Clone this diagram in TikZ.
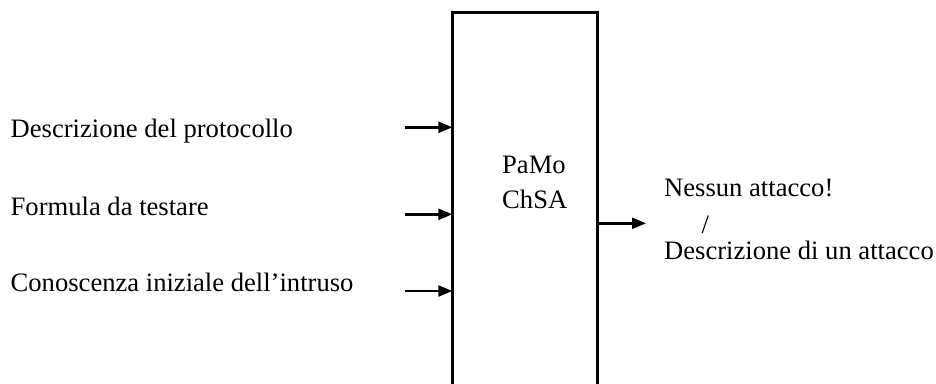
\documentclass[tikz,border=0pt]{standalone}
\usepackage{fontspec}
\setmainfont{Liberation Serif}
\usetikzlibrary{arrows.meta}
\begin{document}
\begin{tikzpicture}[x=1pt,y=-1pt,
  lbl/.style={anchor=base west,inner sep=0pt,font=\fontsize{26.6}{34}\selectfont},
  conn/.style={line width=2.4pt,-{Triangle[length=14pt,width=11pt]}},
  boxline/.style={line width=2.7pt}]
\useasboundingbox (0,0) rectangle (936,383);
% box (open at the bottom)
\coordinate (bl) at (452.3,386);
\coordinate (tl) at (452.3,12.5);
\coordinate (tr) at (597.7,12.5);
\coordinate (br) at (597.7,386);
\draw[boxline] (bl) -- (tl) -- (tr) -- (br);
% box label
\node[lbl] (pamo) at (502,173.3) {PaMo};
\node[lbl] (chsa) at (502,208.3) {ChSA};
% inputs
\node[lbl] (in1) at (10.5,137) {Descrizione del protocollo};
\node[lbl] (in2) at (10.5,215) {Formula da testare};
\node[lbl] (in3) at (10.5,291.7) {Conoscenza iniziale dell’intruso};
\coordinate (s1) at (405,127.3);
\coordinate (e1) at (452.3,127.3);
\coordinate (s2) at (405,214.3);
\coordinate (e2) at (452.3,214.3);
\coordinate (s3) at (405,291);
\coordinate (e3) at (452.3,291);
\draw[conn] (s1) -- (e1);
\draw[conn] (s2) -- (e2);
\draw[conn] (s3) -- (e3);
% output
\coordinate (so) at (597.7,223.3);
\coordinate (eo) at (646,223.3);
\draw[conn] (so) -- (eo);
\node[lbl] (out1) at (664,196) {Nessun attacco!};
\node[lbl] (slash) at (701.5,233) {/};
\node[lbl] (out2) at (664,259.3) {Descrizione di un attacco};
\end{tikzpicture}
\end{document}
